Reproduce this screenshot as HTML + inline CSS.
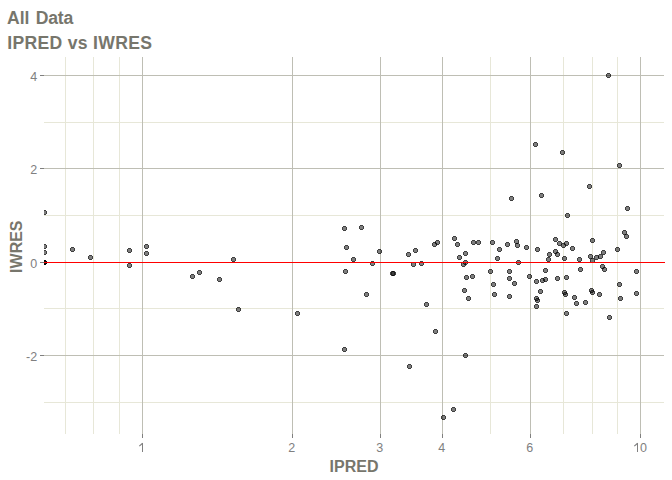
<!DOCTYPE html>
<html><head><meta charset="utf-8"><style>
html,body{margin:0;padding:0;background:#fff;width:672px;height:480px;overflow:hidden}
svg{display:block}
text{font-family:"Liberation Sans",sans-serif}
.tk{font-size:12.5px;fill:#808080}
.ti{font-size:17.6px;font-weight:bold;fill:#77766c}
.ax{font-size:16px;font-weight:bold;fill:#77766c}
</style></head><body>
<svg width="672" height="480" viewBox="0 0 672 480" shape-rendering="crispEdges">
<rect width="672" height="480" fill="#fff"/>
<rect x="65" y="57" width="1" height="377" fill="#e7e7d8"/>
<rect x="93" y="57" width="1" height="377" fill="#e7e7d8"/>
<rect x="119" y="57" width="1" height="377" fill="#e7e7d8"/>
<rect x="490" y="57" width="1" height="377" fill="#e7e7d8"/>
<rect x="563" y="57" width="1" height="377" fill="#e7e7d8"/>
<rect x="592" y="57" width="1" height="377" fill="#e7e7d8"/>
<rect x="617" y="57" width="1" height="377" fill="#e7e7d8"/>
<rect x="44" y="122" width="620" height="1" fill="#e7e7d8"/>
<rect x="44" y="215" width="620" height="1" fill="#e7e7d8"/>
<rect x="44" y="308" width="620" height="1" fill="#e7e7d8"/>
<rect x="44" y="402" width="620" height="1" fill="#e7e7d8"/>
<rect x="142" y="57" width="1" height="377" fill="#bebeb4"/>
<rect x="292" y="57" width="1" height="377" fill="#bebeb4"/>
<rect x="380" y="57" width="1" height="377" fill="#bebeb4"/>
<rect x="442" y="57" width="1" height="377" fill="#bebeb4"/>
<rect x="530" y="57" width="1" height="377" fill="#bebeb4"/>
<rect x="640" y="57" width="1" height="377" fill="#bebeb4"/>
<rect x="44" y="75" width="620" height="1" fill="#bebeb4"/>
<rect x="44" y="168" width="620" height="1" fill="#bebeb4"/>
<rect x="44" y="262" width="620" height="1" fill="#bebeb4"/>
<rect x="44" y="355" width="620" height="1" fill="#bebeb4"/>
<rect x="142" y="434" width="1" height="4" fill="#7f7f7f"/>
<rect x="292" y="434" width="1" height="4" fill="#7f7f7f"/>
<rect x="380" y="434" width="1" height="4" fill="#7f7f7f"/>
<rect x="442" y="434" width="1" height="4" fill="#7f7f7f"/>
<rect x="530" y="434" width="1" height="4" fill="#7f7f7f"/>
<rect x="640" y="434" width="1" height="4" fill="#7f7f7f"/>
<rect x="40" y="75" width="4" height="1" fill="#7f7f7f"/>
<rect x="40" y="168" width="4" height="1" fill="#7f7f7f"/>
<rect x="40" y="262" width="4" height="1" fill="#7f7f7f"/>
<rect x="40" y="355" width="4" height="1" fill="#7f7f7f"/>
<path d="M44 210h2v1h1v3h-1v1h-2z" fill="rgba(0,0,0,0.5)"/><path d="M44 210h2v1h1v3h-1v1h-2zM44 211h2v3h-2z" fill="rgba(0,0,0,0.5)" fill-rule="evenodd"/>
<path d="M44 244h2v1h1v3h-1v1h-2z" fill="rgba(0,0,0,0.5)"/><path d="M44 244h2v1h1v3h-1v1h-2zM44 245h2v3h-2z" fill="rgba(0,0,0,0.5)" fill-rule="evenodd"/>
<path d="M44 250h2v1h1v3h-1v1h-2z" fill="rgba(0,0,0,0.5)"/><path d="M44 250h2v1h1v3h-1v1h-2zM44 251h2v3h-2z" fill="rgba(0,0,0,0.5)" fill-rule="evenodd"/>
<path d="M44 260h2v1h1v3h-1v1h-2z" fill="rgba(0,0,0,0.5)"/><path d="M44 260h2v1h1v3h-1v1h-2zM44 261h2v3h-2z" fill="rgba(0,0,0,0.5)" fill-rule="evenodd"/>
<path d="M44 260h2v1h1v3h-1v1h-2z" fill="rgba(0,0,0,0.5)"/><path d="M44 260h2v1h1v3h-1v1h-2zM44 261h2v3h-2z" fill="rgba(0,0,0,0.5)" fill-rule="evenodd"/>
<path d="M44 260h2v1h1v3h-1v1h-2z" fill="rgba(0,0,0,0.5)"/><path d="M44 260h2v1h1v3h-1v1h-2zM44 261h2v3h-2z" fill="rgba(0,0,0,0.5)" fill-rule="evenodd"/>
<path d="M44 260h2v1h1v3h-1v1h-2z" fill="rgba(0,0,0,0.5)"/><path d="M44 260h2v1h1v3h-1v1h-2zM44 261h2v3h-2z" fill="rgba(0,0,0,0.5)" fill-rule="evenodd"/>
<path d="M71 247h3v1h1v3h-1v1h-3v-1h-1v-3h1z" fill="rgba(0,0,0,0.5)"/><path d="M71 247h3v1h1v3h-1v1h-3v-1h-1v-3h1zM71 248v3h3v-3z" fill="rgba(0,0,0,0.5)" fill-rule="evenodd"/>
<path d="M89 255h3v1h1v3h-1v1h-3v-1h-1v-3h1z" fill="rgba(0,0,0,0.5)"/><path d="M89 255h3v1h1v3h-1v1h-3v-1h-1v-3h1zM89 256v3h3v-3z" fill="rgba(0,0,0,0.5)" fill-rule="evenodd"/>
<path d="M128 248h3v1h1v3h-1v1h-3v-1h-1v-3h1z" fill="rgba(0,0,0,0.5)"/><path d="M128 248h3v1h1v3h-1v1h-3v-1h-1v-3h1zM128 249v3h3v-3z" fill="rgba(0,0,0,0.5)" fill-rule="evenodd"/>
<path d="M128 263h3v1h1v3h-1v1h-3v-1h-1v-3h1z" fill="rgba(0,0,0,0.5)"/><path d="M128 263h3v1h1v3h-1v1h-3v-1h-1v-3h1zM128 264v3h3v-3z" fill="rgba(0,0,0,0.5)" fill-rule="evenodd"/>
<path d="M145 244h3v1h1v3h-1v1h-3v-1h-1v-3h1z" fill="rgba(0,0,0,0.5)"/><path d="M145 244h3v1h1v3h-1v1h-3v-1h-1v-3h1zM145 245v3h3v-3z" fill="rgba(0,0,0,0.5)" fill-rule="evenodd"/>
<path d="M145 251h3v1h1v3h-1v1h-3v-1h-1v-3h1z" fill="rgba(0,0,0,0.5)"/><path d="M145 251h3v1h1v3h-1v1h-3v-1h-1v-3h1zM145 252v3h3v-3z" fill="rgba(0,0,0,0.5)" fill-rule="evenodd"/>
<path d="M191 274h3v1h1v3h-1v1h-3v-1h-1v-3h1z" fill="rgba(0,0,0,0.5)"/><path d="M191 274h3v1h1v3h-1v1h-3v-1h-1v-3h1zM191 275v3h3v-3z" fill="rgba(0,0,0,0.5)" fill-rule="evenodd"/>
<path d="M198 270h3v1h1v3h-1v1h-3v-1h-1v-3h1z" fill="rgba(0,0,0,0.5)"/><path d="M198 270h3v1h1v3h-1v1h-3v-1h-1v-3h1zM198 271v3h3v-3z" fill="rgba(0,0,0,0.5)" fill-rule="evenodd"/>
<path d="M218 277h3v1h1v3h-1v1h-3v-1h-1v-3h1z" fill="rgba(0,0,0,0.5)"/><path d="M218 277h3v1h1v3h-1v1h-3v-1h-1v-3h1zM218 278v3h3v-3z" fill="rgba(0,0,0,0.5)" fill-rule="evenodd"/>
<path d="M232 257h3v1h1v3h-1v1h-3v-1h-1v-3h1z" fill="rgba(0,0,0,0.5)"/><path d="M232 257h3v1h1v3h-1v1h-3v-1h-1v-3h1zM232 258v3h3v-3z" fill="rgba(0,0,0,0.5)" fill-rule="evenodd"/>
<path d="M237 307h3v1h1v3h-1v1h-3v-1h-1v-3h1z" fill="rgba(0,0,0,0.5)"/><path d="M237 307h3v1h1v3h-1v1h-3v-1h-1v-3h1zM237 308v3h3v-3z" fill="rgba(0,0,0,0.5)" fill-rule="evenodd"/>
<path d="M296 311h3v1h1v3h-1v1h-3v-1h-1v-3h1z" fill="rgba(0,0,0,0.5)"/><path d="M296 311h3v1h1v3h-1v1h-3v-1h-1v-3h1zM296 312v3h3v-3z" fill="rgba(0,0,0,0.5)" fill-rule="evenodd"/>
<path d="M343 226h3v1h1v3h-1v1h-3v-1h-1v-3h1z" fill="rgba(0,0,0,0.5)"/><path d="M343 226h3v1h1v3h-1v1h-3v-1h-1v-3h1zM343 227v3h3v-3z" fill="rgba(0,0,0,0.5)" fill-rule="evenodd"/>
<path d="M360 225h3v1h1v3h-1v1h-3v-1h-1v-3h1z" fill="rgba(0,0,0,0.5)"/><path d="M360 225h3v1h1v3h-1v1h-3v-1h-1v-3h1zM360 226v3h3v-3z" fill="rgba(0,0,0,0.5)" fill-rule="evenodd"/>
<path d="M345 245h3v1h1v3h-1v1h-3v-1h-1v-3h1z" fill="rgba(0,0,0,0.5)"/><path d="M345 245h3v1h1v3h-1v1h-3v-1h-1v-3h1zM345 246v3h3v-3z" fill="rgba(0,0,0,0.5)" fill-rule="evenodd"/>
<path d="M352 257h3v1h1v3h-1v1h-3v-1h-1v-3h1z" fill="rgba(0,0,0,0.5)"/><path d="M352 257h3v1h1v3h-1v1h-3v-1h-1v-3h1zM352 258v3h3v-3z" fill="rgba(0,0,0,0.5)" fill-rule="evenodd"/>
<path d="M344 269h3v1h1v3h-1v1h-3v-1h-1v-3h1z" fill="rgba(0,0,0,0.5)"/><path d="M344 269h3v1h1v3h-1v1h-3v-1h-1v-3h1zM344 270v3h3v-3z" fill="rgba(0,0,0,0.5)" fill-rule="evenodd"/>
<path d="M371 261h3v1h1v3h-1v1h-3v-1h-1v-3h1z" fill="rgba(0,0,0,0.5)"/><path d="M371 261h3v1h1v3h-1v1h-3v-1h-1v-3h1zM371 262v3h3v-3z" fill="rgba(0,0,0,0.5)" fill-rule="evenodd"/>
<path d="M378 249h3v1h1v3h-1v1h-3v-1h-1v-3h1z" fill="rgba(0,0,0,0.5)"/><path d="M378 249h3v1h1v3h-1v1h-3v-1h-1v-3h1zM378 250v3h3v-3z" fill="rgba(0,0,0,0.5)" fill-rule="evenodd"/>
<path d="M407 252h3v1h1v3h-1v1h-3v-1h-1v-3h1z" fill="rgba(0,0,0,0.5)"/><path d="M407 252h3v1h1v3h-1v1h-3v-1h-1v-3h1zM407 253v3h3v-3z" fill="rgba(0,0,0,0.5)" fill-rule="evenodd"/>
<path d="M414 248h3v1h1v3h-1v1h-3v-1h-1v-3h1z" fill="rgba(0,0,0,0.5)"/><path d="M414 248h3v1h1v3h-1v1h-3v-1h-1v-3h1zM414 249v3h3v-3z" fill="rgba(0,0,0,0.5)" fill-rule="evenodd"/>
<path d="M412 262h3v1h1v3h-1v1h-3v-1h-1v-3h1z" fill="rgba(0,0,0,0.5)"/><path d="M412 262h3v1h1v3h-1v1h-3v-1h-1v-3h1zM412 263v3h3v-3z" fill="rgba(0,0,0,0.5)" fill-rule="evenodd"/>
<path d="M391 271h3v1h1v3h-1v1h-3v-1h-1v-3h1z" fill="rgba(0,0,0,0.5)"/><path d="M391 271h3v1h1v3h-1v1h-3v-1h-1v-3h1zM391 272v3h3v-3z" fill="rgba(0,0,0,0.5)" fill-rule="evenodd"/>
<path d="M392 271h3v1h1v3h-1v1h-3v-1h-1v-3h1z" fill="rgba(0,0,0,0.5)"/><path d="M392 271h3v1h1v3h-1v1h-3v-1h-1v-3h1zM392 272v3h3v-3z" fill="rgba(0,0,0,0.5)" fill-rule="evenodd"/>
<path d="M365 292h3v1h1v3h-1v1h-3v-1h-1v-3h1z" fill="rgba(0,0,0,0.5)"/><path d="M365 292h3v1h1v3h-1v1h-3v-1h-1v-3h1zM365 293v3h3v-3z" fill="rgba(0,0,0,0.5)" fill-rule="evenodd"/>
<path d="M425 302h3v1h1v3h-1v1h-3v-1h-1v-3h1z" fill="rgba(0,0,0,0.5)"/><path d="M425 302h3v1h1v3h-1v1h-3v-1h-1v-3h1zM425 303v3h3v-3z" fill="rgba(0,0,0,0.5)" fill-rule="evenodd"/>
<path d="M434 329h3v1h1v3h-1v1h-3v-1h-1v-3h1z" fill="rgba(0,0,0,0.5)"/><path d="M434 329h3v1h1v3h-1v1h-3v-1h-1v-3h1zM434 330v3h3v-3z" fill="rgba(0,0,0,0.5)" fill-rule="evenodd"/>
<path d="M343 347h3v1h1v3h-1v1h-3v-1h-1v-3h1z" fill="rgba(0,0,0,0.5)"/><path d="M343 347h3v1h1v3h-1v1h-3v-1h-1v-3h1zM343 348v3h3v-3z" fill="rgba(0,0,0,0.5)" fill-rule="evenodd"/>
<path d="M408 364h3v1h1v3h-1v1h-3v-1h-1v-3h1z" fill="rgba(0,0,0,0.5)"/><path d="M408 364h3v1h1v3h-1v1h-3v-1h-1v-3h1zM408 365v3h3v-3z" fill="rgba(0,0,0,0.5)" fill-rule="evenodd"/>
<path d="M452 407h3v1h1v3h-1v1h-3v-1h-1v-3h1z" fill="rgba(0,0,0,0.5)"/><path d="M452 407h3v1h1v3h-1v1h-3v-1h-1v-3h1zM452 408v3h3v-3z" fill="rgba(0,0,0,0.5)" fill-rule="evenodd"/>
<path d="M442 415h3v1h1v3h-1v1h-3v-1h-1v-3h1z" fill="rgba(0,0,0,0.5)"/><path d="M442 415h3v1h1v3h-1v1h-3v-1h-1v-3h1zM442 416v3h3v-3z" fill="rgba(0,0,0,0.5)" fill-rule="evenodd"/>
<path d="M433 242h3v1h1v3h-1v1h-3v-1h-1v-3h1z" fill="rgba(0,0,0,0.5)"/><path d="M433 242h3v1h1v3h-1v1h-3v-1h-1v-3h1zM433 243v3h3v-3z" fill="rgba(0,0,0,0.5)" fill-rule="evenodd"/>
<path d="M436 240h3v1h1v3h-1v1h-3v-1h-1v-3h1z" fill="rgba(0,0,0,0.5)"/><path d="M436 240h3v1h1v3h-1v1h-3v-1h-1v-3h1zM436 241v3h3v-3z" fill="rgba(0,0,0,0.5)" fill-rule="evenodd"/>
<path d="M453 236h3v1h1v3h-1v1h-3v-1h-1v-3h1z" fill="rgba(0,0,0,0.5)"/><path d="M453 236h3v1h1v3h-1v1h-3v-1h-1v-3h1zM453 237v3h3v-3z" fill="rgba(0,0,0,0.5)" fill-rule="evenodd"/>
<path d="M456 242h3v1h1v3h-1v1h-3v-1h-1v-3h1z" fill="rgba(0,0,0,0.5)"/><path d="M456 242h3v1h1v3h-1v1h-3v-1h-1v-3h1zM456 243v3h3v-3z" fill="rgba(0,0,0,0.5)" fill-rule="evenodd"/>
<path d="M472 240h3v1h1v3h-1v1h-3v-1h-1v-3h1z" fill="rgba(0,0,0,0.5)"/><path d="M472 240h3v1h1v3h-1v1h-3v-1h-1v-3h1zM472 241v3h3v-3z" fill="rgba(0,0,0,0.5)" fill-rule="evenodd"/>
<path d="M477 240h3v1h1v3h-1v1h-3v-1h-1v-3h1z" fill="rgba(0,0,0,0.5)"/><path d="M477 240h3v1h1v3h-1v1h-3v-1h-1v-3h1zM477 241v3h3v-3z" fill="rgba(0,0,0,0.5)" fill-rule="evenodd"/>
<path d="M491 240h3v1h1v3h-1v1h-3v-1h-1v-3h1z" fill="rgba(0,0,0,0.5)"/><path d="M491 240h3v1h1v3h-1v1h-3v-1h-1v-3h1zM491 241v3h3v-3z" fill="rgba(0,0,0,0.5)" fill-rule="evenodd"/>
<path d="M498 247h3v1h1v3h-1v1h-3v-1h-1v-3h1z" fill="rgba(0,0,0,0.5)"/><path d="M498 247h3v1h1v3h-1v1h-3v-1h-1v-3h1zM498 248v3h3v-3z" fill="rgba(0,0,0,0.5)" fill-rule="evenodd"/>
<path d="M464 251h3v1h1v3h-1v1h-3v-1h-1v-3h1z" fill="rgba(0,0,0,0.5)"/><path d="M464 251h3v1h1v3h-1v1h-3v-1h-1v-3h1zM464 252v3h3v-3z" fill="rgba(0,0,0,0.5)" fill-rule="evenodd"/>
<path d="M458 255h3v1h1v3h-1v1h-3v-1h-1v-3h1z" fill="rgba(0,0,0,0.5)"/><path d="M458 255h3v1h1v3h-1v1h-3v-1h-1v-3h1zM458 256v3h3v-3z" fill="rgba(0,0,0,0.5)" fill-rule="evenodd"/>
<path d="M464 260h3v1h1v3h-1v1h-3v-1h-1v-3h1z" fill="rgba(0,0,0,0.5)"/><path d="M464 260h3v1h1v3h-1v1h-3v-1h-1v-3h1zM464 261v3h3v-3z" fill="rgba(0,0,0,0.5)" fill-rule="evenodd"/>
<path d="M462 262h3v1h1v3h-1v1h-3v-1h-1v-3h1z" fill="rgba(0,0,0,0.5)"/><path d="M462 262h3v1h1v3h-1v1h-3v-1h-1v-3h1zM462 263v3h3v-3z" fill="rgba(0,0,0,0.5)" fill-rule="evenodd"/>
<path d="M496 256h3v1h1v3h-1v1h-3v-1h-1v-3h1z" fill="rgba(0,0,0,0.5)"/><path d="M496 256h3v1h1v3h-1v1h-3v-1h-1v-3h1zM496 257v3h3v-3z" fill="rgba(0,0,0,0.5)" fill-rule="evenodd"/>
<path d="M420 261h3v1h1v3h-1v1h-3v-1h-1v-3h1z" fill="rgba(0,0,0,0.5)"/><path d="M420 261h3v1h1v3h-1v1h-3v-1h-1v-3h1zM420 262v3h3v-3z" fill="rgba(0,0,0,0.5)" fill-rule="evenodd"/>
<path d="M489 269h3v1h1v3h-1v1h-3v-1h-1v-3h1z" fill="rgba(0,0,0,0.5)"/><path d="M489 269h3v1h1v3h-1v1h-3v-1h-1v-3h1zM489 270v3h3v-3z" fill="rgba(0,0,0,0.5)" fill-rule="evenodd"/>
<path d="M471 274h3v1h1v3h-1v1h-3v-1h-1v-3h1z" fill="rgba(0,0,0,0.5)"/><path d="M471 274h3v1h1v3h-1v1h-3v-1h-1v-3h1zM471 275v3h3v-3z" fill="rgba(0,0,0,0.5)" fill-rule="evenodd"/>
<path d="M465 275h3v1h1v3h-1v1h-3v-1h-1v-3h1z" fill="rgba(0,0,0,0.5)"/><path d="M465 275h3v1h1v3h-1v1h-3v-1h-1v-3h1zM465 276v3h3v-3z" fill="rgba(0,0,0,0.5)" fill-rule="evenodd"/>
<path d="M492 282h3v1h1v3h-1v1h-3v-1h-1v-3h1z" fill="rgba(0,0,0,0.5)"/><path d="M492 282h3v1h1v3h-1v1h-3v-1h-1v-3h1zM492 283v3h3v-3z" fill="rgba(0,0,0,0.5)" fill-rule="evenodd"/>
<path d="M463 288h3v1h1v3h-1v1h-3v-1h-1v-3h1z" fill="rgba(0,0,0,0.5)"/><path d="M463 288h3v1h1v3h-1v1h-3v-1h-1v-3h1zM463 289v3h3v-3z" fill="rgba(0,0,0,0.5)" fill-rule="evenodd"/>
<path d="M467 296h3v1h1v3h-1v1h-3v-1h-1v-3h1z" fill="rgba(0,0,0,0.5)"/><path d="M467 296h3v1h1v3h-1v1h-3v-1h-1v-3h1zM467 297v3h3v-3z" fill="rgba(0,0,0,0.5)" fill-rule="evenodd"/>
<path d="M493 292h3v1h1v3h-1v1h-3v-1h-1v-3h1z" fill="rgba(0,0,0,0.5)"/><path d="M493 292h3v1h1v3h-1v1h-3v-1h-1v-3h1zM493 293v3h3v-3z" fill="rgba(0,0,0,0.5)" fill-rule="evenodd"/>
<path d="M464 353h3v1h1v3h-1v1h-3v-1h-1v-3h1z" fill="rgba(0,0,0,0.5)"/><path d="M464 353h3v1h1v3h-1v1h-3v-1h-1v-3h1zM464 354v3h3v-3z" fill="rgba(0,0,0,0.5)" fill-rule="evenodd"/>
<path d="M534 142h3v1h1v3h-1v1h-3v-1h-1v-3h1z" fill="rgba(0,0,0,0.5)"/><path d="M534 142h3v1h1v3h-1v1h-3v-1h-1v-3h1zM534 143v3h3v-3z" fill="rgba(0,0,0,0.5)" fill-rule="evenodd"/>
<path d="M561 150h3v1h1v3h-1v1h-3v-1h-1v-3h1z" fill="rgba(0,0,0,0.5)"/><path d="M561 150h3v1h1v3h-1v1h-3v-1h-1v-3h1zM561 151v3h3v-3z" fill="rgba(0,0,0,0.5)" fill-rule="evenodd"/>
<path d="M510 196h3v1h1v3h-1v1h-3v-1h-1v-3h1z" fill="rgba(0,0,0,0.5)"/><path d="M510 196h3v1h1v3h-1v1h-3v-1h-1v-3h1zM510 197v3h3v-3z" fill="rgba(0,0,0,0.5)" fill-rule="evenodd"/>
<path d="M540 193h3v1h1v3h-1v1h-3v-1h-1v-3h1z" fill="rgba(0,0,0,0.5)"/><path d="M540 193h3v1h1v3h-1v1h-3v-1h-1v-3h1zM540 194v3h3v-3z" fill="rgba(0,0,0,0.5)" fill-rule="evenodd"/>
<path d="M566 213h3v1h1v3h-1v1h-3v-1h-1v-3h1z" fill="rgba(0,0,0,0.5)"/><path d="M566 213h3v1h1v3h-1v1h-3v-1h-1v-3h1zM566 214v3h3v-3z" fill="rgba(0,0,0,0.5)" fill-rule="evenodd"/>
<path d="M506 242h3v1h1v3h-1v1h-3v-1h-1v-3h1z" fill="rgba(0,0,0,0.5)"/><path d="M506 242h3v1h1v3h-1v1h-3v-1h-1v-3h1zM506 243v3h3v-3z" fill="rgba(0,0,0,0.5)" fill-rule="evenodd"/>
<path d="M515 239h3v1h1v3h-1v1h-3v-1h-1v-3h1z" fill="rgba(0,0,0,0.5)"/><path d="M515 239h3v1h1v3h-1v1h-3v-1h-1v-3h1zM515 240v3h3v-3z" fill="rgba(0,0,0,0.5)" fill-rule="evenodd"/>
<path d="M516 243h3v1h1v3h-1v1h-3v-1h-1v-3h1z" fill="rgba(0,0,0,0.5)"/><path d="M516 243h3v1h1v3h-1v1h-3v-1h-1v-3h1zM516 244v3h3v-3z" fill="rgba(0,0,0,0.5)" fill-rule="evenodd"/>
<path d="M525 245h3v1h1v3h-1v1h-3v-1h-1v-3h1z" fill="rgba(0,0,0,0.5)"/><path d="M525 245h3v1h1v3h-1v1h-3v-1h-1v-3h1zM525 246v3h3v-3z" fill="rgba(0,0,0,0.5)" fill-rule="evenodd"/>
<path d="M536 247h3v1h1v3h-1v1h-3v-1h-1v-3h1z" fill="rgba(0,0,0,0.5)"/><path d="M536 247h3v1h1v3h-1v1h-3v-1h-1v-3h1zM536 248v3h3v-3z" fill="rgba(0,0,0,0.5)" fill-rule="evenodd"/>
<path d="M554 237h3v1h1v3h-1v1h-3v-1h-1v-3h1z" fill="rgba(0,0,0,0.5)"/><path d="M554 237h3v1h1v3h-1v1h-3v-1h-1v-3h1zM554 238v3h3v-3z" fill="rgba(0,0,0,0.5)" fill-rule="evenodd"/>
<path d="M558 241h3v1h1v3h-1v1h-3v-1h-1v-3h1z" fill="rgba(0,0,0,0.5)"/><path d="M558 241h3v1h1v3h-1v1h-3v-1h-1v-3h1zM558 242v3h3v-3z" fill="rgba(0,0,0,0.5)" fill-rule="evenodd"/>
<path d="M562 243h3v1h1v3h-1v1h-3v-1h-1v-3h1z" fill="rgba(0,0,0,0.5)"/><path d="M562 243h3v1h1v3h-1v1h-3v-1h-1v-3h1zM562 244v3h3v-3z" fill="rgba(0,0,0,0.5)" fill-rule="evenodd"/>
<path d="M565 241h3v1h1v3h-1v1h-3v-1h-1v-3h1z" fill="rgba(0,0,0,0.5)"/><path d="M565 241h3v1h1v3h-1v1h-3v-1h-1v-3h1zM565 242v3h3v-3z" fill="rgba(0,0,0,0.5)" fill-rule="evenodd"/>
<path d="M571 246h3v1h1v3h-1v1h-3v-1h-1v-3h1z" fill="rgba(0,0,0,0.5)"/><path d="M571 246h3v1h1v3h-1v1h-3v-1h-1v-3h1zM571 247v3h3v-3z" fill="rgba(0,0,0,0.5)" fill-rule="evenodd"/>
<path d="M554 249h3v1h1v3h-1v1h-3v-1h-1v-3h1z" fill="rgba(0,0,0,0.5)"/><path d="M554 249h3v1h1v3h-1v1h-3v-1h-1v-3h1zM554 250v3h3v-3z" fill="rgba(0,0,0,0.5)" fill-rule="evenodd"/>
<path d="M556 252h3v1h1v3h-1v1h-3v-1h-1v-3h1z" fill="rgba(0,0,0,0.5)"/><path d="M556 252h3v1h1v3h-1v1h-3v-1h-1v-3h1zM556 253v3h3v-3z" fill="rgba(0,0,0,0.5)" fill-rule="evenodd"/>
<path d="M548 252h3v1h1v3h-1v1h-3v-1h-1v-3h1z" fill="rgba(0,0,0,0.5)"/><path d="M548 252h3v1h1v3h-1v1h-3v-1h-1v-3h1zM548 253v3h3v-3z" fill="rgba(0,0,0,0.5)" fill-rule="evenodd"/>
<path d="M547 257h3v1h1v3h-1v1h-3v-1h-1v-3h1z" fill="rgba(0,0,0,0.5)"/><path d="M547 257h3v1h1v3h-1v1h-3v-1h-1v-3h1zM547 258v3h3v-3z" fill="rgba(0,0,0,0.5)" fill-rule="evenodd"/>
<path d="M563 256h3v1h1v3h-1v1h-3v-1h-1v-3h1z" fill="rgba(0,0,0,0.5)"/><path d="M563 256h3v1h1v3h-1v1h-3v-1h-1v-3h1zM563 257v3h3v-3z" fill="rgba(0,0,0,0.5)" fill-rule="evenodd"/>
<path d="M578 257h3v1h1v3h-1v1h-3v-1h-1v-3h1z" fill="rgba(0,0,0,0.5)"/><path d="M578 257h3v1h1v3h-1v1h-3v-1h-1v-3h1zM578 258v3h3v-3z" fill="rgba(0,0,0,0.5)" fill-rule="evenodd"/>
<path d="M517 260h3v1h1v3h-1v1h-3v-1h-1v-3h1z" fill="rgba(0,0,0,0.5)"/><path d="M517 260h3v1h1v3h-1v1h-3v-1h-1v-3h1zM517 261v3h3v-3z" fill="rgba(0,0,0,0.5)" fill-rule="evenodd"/>
<path d="M508 269h3v1h1v3h-1v1h-3v-1h-1v-3h1z" fill="rgba(0,0,0,0.5)"/><path d="M508 269h3v1h1v3h-1v1h-3v-1h-1v-3h1zM508 270v3h3v-3z" fill="rgba(0,0,0,0.5)" fill-rule="evenodd"/>
<path d="M544 268h3v1h1v3h-1v1h-3v-1h-1v-3h1z" fill="rgba(0,0,0,0.5)"/><path d="M544 268h3v1h1v3h-1v1h-3v-1h-1v-3h1zM544 269v3h3v-3z" fill="rgba(0,0,0,0.5)" fill-rule="evenodd"/>
<path d="M579 267h3v1h1v3h-1v1h-3v-1h-1v-3h1z" fill="rgba(0,0,0,0.5)"/><path d="M579 267h3v1h1v3h-1v1h-3v-1h-1v-3h1zM579 268v3h3v-3z" fill="rgba(0,0,0,0.5)" fill-rule="evenodd"/>
<path d="M508 276h3v1h1v3h-1v1h-3v-1h-1v-3h1z" fill="rgba(0,0,0,0.5)"/><path d="M508 276h3v1h1v3h-1v1h-3v-1h-1v-3h1zM508 277v3h3v-3z" fill="rgba(0,0,0,0.5)" fill-rule="evenodd"/>
<path d="M528 274h3v1h1v3h-1v1h-3v-1h-1v-3h1z" fill="rgba(0,0,0,0.5)"/><path d="M528 274h3v1h1v3h-1v1h-3v-1h-1v-3h1zM528 275v3h3v-3z" fill="rgba(0,0,0,0.5)" fill-rule="evenodd"/>
<path d="M513 281h3v1h1v3h-1v1h-3v-1h-1v-3h1z" fill="rgba(0,0,0,0.5)"/><path d="M513 281h3v1h1v3h-1v1h-3v-1h-1v-3h1zM513 282v3h3v-3z" fill="rgba(0,0,0,0.5)" fill-rule="evenodd"/>
<path d="M535 279h3v1h1v3h-1v1h-3v-1h-1v-3h1z" fill="rgba(0,0,0,0.5)"/><path d="M535 279h3v1h1v3h-1v1h-3v-1h-1v-3h1zM535 280v3h3v-3z" fill="rgba(0,0,0,0.5)" fill-rule="evenodd"/>
<path d="M541 278h3v1h1v3h-1v1h-3v-1h-1v-3h1z" fill="rgba(0,0,0,0.5)"/><path d="M541 278h3v1h1v3h-1v1h-3v-1h-1v-3h1zM541 279v3h3v-3z" fill="rgba(0,0,0,0.5)" fill-rule="evenodd"/>
<path d="M544 277h3v1h1v3h-1v1h-3v-1h-1v-3h1z" fill="rgba(0,0,0,0.5)"/><path d="M544 277h3v1h1v3h-1v1h-3v-1h-1v-3h1zM544 278v3h3v-3z" fill="rgba(0,0,0,0.5)" fill-rule="evenodd"/>
<path d="M556 276h3v1h1v3h-1v1h-3v-1h-1v-3h1z" fill="rgba(0,0,0,0.5)"/><path d="M556 276h3v1h1v3h-1v1h-3v-1h-1v-3h1zM556 277v3h3v-3z" fill="rgba(0,0,0,0.5)" fill-rule="evenodd"/>
<path d="M565 275h3v1h1v3h-1v1h-3v-1h-1v-3h1z" fill="rgba(0,0,0,0.5)"/><path d="M565 275h3v1h1v3h-1v1h-3v-1h-1v-3h1zM565 276v3h3v-3z" fill="rgba(0,0,0,0.5)" fill-rule="evenodd"/>
<path d="M539 289h3v1h1v3h-1v1h-3v-1h-1v-3h1z" fill="rgba(0,0,0,0.5)"/><path d="M539 289h3v1h1v3h-1v1h-3v-1h-1v-3h1zM539 290v3h3v-3z" fill="rgba(0,0,0,0.5)" fill-rule="evenodd"/>
<path d="M508 294h3v1h1v3h-1v1h-3v-1h-1v-3h1z" fill="rgba(0,0,0,0.5)"/><path d="M508 294h3v1h1v3h-1v1h-3v-1h-1v-3h1zM508 295v3h3v-3z" fill="rgba(0,0,0,0.5)" fill-rule="evenodd"/>
<path d="M535 296h3v1h1v3h-1v1h-3v-1h-1v-3h1z" fill="rgba(0,0,0,0.5)"/><path d="M535 296h3v1h1v3h-1v1h-3v-1h-1v-3h1zM535 297v3h3v-3z" fill="rgba(0,0,0,0.5)" fill-rule="evenodd"/>
<path d="M536 298h3v1h1v3h-1v1h-3v-1h-1v-3h1z" fill="rgba(0,0,0,0.5)"/><path d="M536 298h3v1h1v3h-1v1h-3v-1h-1v-3h1zM536 299v3h3v-3z" fill="rgba(0,0,0,0.5)" fill-rule="evenodd"/>
<path d="M535 304h3v1h1v3h-1v1h-3v-1h-1v-3h1z" fill="rgba(0,0,0,0.5)"/><path d="M535 304h3v1h1v3h-1v1h-3v-1h-1v-3h1zM535 305v3h3v-3z" fill="rgba(0,0,0,0.5)" fill-rule="evenodd"/>
<path d="M563 290h3v1h1v3h-1v1h-3v-1h-1v-3h1z" fill="rgba(0,0,0,0.5)"/><path d="M563 290h3v1h1v3h-1v1h-3v-1h-1v-3h1zM563 291v3h3v-3z" fill="rgba(0,0,0,0.5)" fill-rule="evenodd"/>
<path d="M564 292h3v1h1v3h-1v1h-3v-1h-1v-3h1z" fill="rgba(0,0,0,0.5)"/><path d="M564 292h3v1h1v3h-1v1h-3v-1h-1v-3h1zM564 293v3h3v-3z" fill="rgba(0,0,0,0.5)" fill-rule="evenodd"/>
<path d="M573 295h3v1h1v3h-1v1h-3v-1h-1v-3h1z" fill="rgba(0,0,0,0.5)"/><path d="M573 295h3v1h1v3h-1v1h-3v-1h-1v-3h1zM573 296v3h3v-3z" fill="rgba(0,0,0,0.5)" fill-rule="evenodd"/>
<path d="M575 301h3v1h1v3h-1v1h-3v-1h-1v-3h1z" fill="rgba(0,0,0,0.5)"/><path d="M575 301h3v1h1v3h-1v1h-3v-1h-1v-3h1zM575 302v3h3v-3z" fill="rgba(0,0,0,0.5)" fill-rule="evenodd"/>
<path d="M584 300h3v1h1v3h-1v1h-3v-1h-1v-3h1z" fill="rgba(0,0,0,0.5)"/><path d="M584 300h3v1h1v3h-1v1h-3v-1h-1v-3h1zM584 301v3h3v-3z" fill="rgba(0,0,0,0.5)" fill-rule="evenodd"/>
<path d="M565 311h3v1h1v3h-1v1h-3v-1h-1v-3h1z" fill="rgba(0,0,0,0.5)"/><path d="M565 311h3v1h1v3h-1v1h-3v-1h-1v-3h1zM565 312v3h3v-3z" fill="rgba(0,0,0,0.5)" fill-rule="evenodd"/>
<path d="M607 73h3v1h1v3h-1v1h-3v-1h-1v-3h1z" fill="rgba(0,0,0,0.5)"/><path d="M607 73h3v1h1v3h-1v1h-3v-1h-1v-3h1zM607 74v3h3v-3z" fill="rgba(0,0,0,0.5)" fill-rule="evenodd"/>
<path d="M618 163h3v1h1v3h-1v1h-3v-1h-1v-3h1z" fill="rgba(0,0,0,0.5)"/><path d="M618 163h3v1h1v3h-1v1h-3v-1h-1v-3h1zM618 164v3h3v-3z" fill="rgba(0,0,0,0.5)" fill-rule="evenodd"/>
<path d="M588 184h3v1h1v3h-1v1h-3v-1h-1v-3h1z" fill="rgba(0,0,0,0.5)"/><path d="M588 184h3v1h1v3h-1v1h-3v-1h-1v-3h1zM588 185v3h3v-3z" fill="rgba(0,0,0,0.5)" fill-rule="evenodd"/>
<path d="M626 206h3v1h1v3h-1v1h-3v-1h-1v-3h1z" fill="rgba(0,0,0,0.5)"/><path d="M626 206h3v1h1v3h-1v1h-3v-1h-1v-3h1zM626 207v3h3v-3z" fill="rgba(0,0,0,0.5)" fill-rule="evenodd"/>
<path d="M623 230h3v1h1v3h-1v1h-3v-1h-1v-3h1z" fill="rgba(0,0,0,0.5)"/><path d="M623 230h3v1h1v3h-1v1h-3v-1h-1v-3h1zM623 231v3h3v-3z" fill="rgba(0,0,0,0.5)" fill-rule="evenodd"/>
<path d="M625 234h3v1h1v3h-1v1h-3v-1h-1v-3h1z" fill="rgba(0,0,0,0.5)"/><path d="M625 234h3v1h1v3h-1v1h-3v-1h-1v-3h1zM625 235v3h3v-3z" fill="rgba(0,0,0,0.5)" fill-rule="evenodd"/>
<path d="M591 238h3v1h1v3h-1v1h-3v-1h-1v-3h1z" fill="rgba(0,0,0,0.5)"/><path d="M591 238h3v1h1v3h-1v1h-3v-1h-1v-3h1zM591 239v3h3v-3z" fill="rgba(0,0,0,0.5)" fill-rule="evenodd"/>
<path d="M616 247h3v1h1v3h-1v1h-3v-1h-1v-3h1z" fill="rgba(0,0,0,0.5)"/><path d="M616 247h3v1h1v3h-1v1h-3v-1h-1v-3h1zM616 248v3h3v-3z" fill="rgba(0,0,0,0.5)" fill-rule="evenodd"/>
<path d="M602 250h3v1h1v3h-1v1h-3v-1h-1v-3h1z" fill="rgba(0,0,0,0.5)"/><path d="M602 250h3v1h1v3h-1v1h-3v-1h-1v-3h1zM602 251v3h3v-3z" fill="rgba(0,0,0,0.5)" fill-rule="evenodd"/>
<path d="M589 254h3v1h1v3h-1v1h-3v-1h-1v-3h1z" fill="rgba(0,0,0,0.5)"/><path d="M589 254h3v1h1v3h-1v1h-3v-1h-1v-3h1zM589 255v3h3v-3z" fill="rgba(0,0,0,0.5)" fill-rule="evenodd"/>
<path d="M595 255h3v1h1v3h-1v1h-3v-1h-1v-3h1z" fill="rgba(0,0,0,0.5)"/><path d="M595 255h3v1h1v3h-1v1h-3v-1h-1v-3h1zM595 256v3h3v-3z" fill="rgba(0,0,0,0.5)" fill-rule="evenodd"/>
<path d="M599 254h3v1h1v3h-1v1h-3v-1h-1v-3h1z" fill="rgba(0,0,0,0.5)"/><path d="M599 254h3v1h1v3h-1v1h-3v-1h-1v-3h1zM599 255v3h3v-3z" fill="rgba(0,0,0,0.5)" fill-rule="evenodd"/>
<path d="M591 258h3v1h1v3h-1v1h-3v-1h-1v-3h1z" fill="rgba(0,0,0,0.5)"/><path d="M591 258h3v1h1v3h-1v1h-3v-1h-1v-3h1zM591 259v3h3v-3z" fill="rgba(0,0,0,0.5)" fill-rule="evenodd"/>
<path d="M601 264h3v1h1v3h-1v1h-3v-1h-1v-3h1z" fill="rgba(0,0,0,0.5)"/><path d="M601 264h3v1h1v3h-1v1h-3v-1h-1v-3h1zM601 265v3h3v-3z" fill="rgba(0,0,0,0.5)" fill-rule="evenodd"/>
<path d="M603 267h3v1h1v3h-1v1h-3v-1h-1v-3h1z" fill="rgba(0,0,0,0.5)"/><path d="M603 267h3v1h1v3h-1v1h-3v-1h-1v-3h1zM603 268v3h3v-3z" fill="rgba(0,0,0,0.5)" fill-rule="evenodd"/>
<path d="M635 269h3v1h1v3h-1v1h-3v-1h-1v-3h1z" fill="rgba(0,0,0,0.5)"/><path d="M635 269h3v1h1v3h-1v1h-3v-1h-1v-3h1zM635 270v3h3v-3z" fill="rgba(0,0,0,0.5)" fill-rule="evenodd"/>
<path d="M618 282h3v1h1v3h-1v1h-3v-1h-1v-3h1z" fill="rgba(0,0,0,0.5)"/><path d="M618 282h3v1h1v3h-1v1h-3v-1h-1v-3h1zM618 283v3h3v-3z" fill="rgba(0,0,0,0.5)" fill-rule="evenodd"/>
<path d="M590 288h3v1h1v3h-1v1h-3v-1h-1v-3h1z" fill="rgba(0,0,0,0.5)"/><path d="M590 288h3v1h1v3h-1v1h-3v-1h-1v-3h1zM590 289v3h3v-3z" fill="rgba(0,0,0,0.5)" fill-rule="evenodd"/>
<path d="M591 290h3v1h1v3h-1v1h-3v-1h-1v-3h1z" fill="rgba(0,0,0,0.5)"/><path d="M591 290h3v1h1v3h-1v1h-3v-1h-1v-3h1zM591 291v3h3v-3z" fill="rgba(0,0,0,0.5)" fill-rule="evenodd"/>
<path d="M598 292h3v1h1v3h-1v1h-3v-1h-1v-3h1z" fill="rgba(0,0,0,0.5)"/><path d="M598 292h3v1h1v3h-1v1h-3v-1h-1v-3h1zM598 293v3h3v-3z" fill="rgba(0,0,0,0.5)" fill-rule="evenodd"/>
<path d="M635 291h3v1h1v3h-1v1h-3v-1h-1v-3h1z" fill="rgba(0,0,0,0.5)"/><path d="M635 291h3v1h1v3h-1v1h-3v-1h-1v-3h1zM635 292v3h3v-3z" fill="rgba(0,0,0,0.5)" fill-rule="evenodd"/>
<path d="M619 296h3v1h1v3h-1v1h-3v-1h-1v-3h1z" fill="rgba(0,0,0,0.5)"/><path d="M619 296h3v1h1v3h-1v1h-3v-1h-1v-3h1zM619 297v3h3v-3z" fill="rgba(0,0,0,0.5)" fill-rule="evenodd"/>
<path d="M608 315h3v1h1v3h-1v1h-3v-1h-1v-3h1z" fill="rgba(0,0,0,0.5)"/><path d="M608 315h3v1h1v3h-1v1h-3v-1h-1v-3h1zM608 316v3h3v-3z" fill="rgba(0,0,0,0.5)" fill-rule="evenodd"/>
<rect x="44" y="262" width="621" height="1" fill="#ff0000"/>
<text x="291.70" y="452" text-anchor="middle" class="tk">2</text>
<text x="379.70" y="452" text-anchor="middle" class="tk">3</text>
<text x="441.70" y="452" text-anchor="middle" class="tk">4</text>
<text x="529.70" y="452" text-anchor="middle" class="tk">6</text>
<rect x="142" y="443" width="1" height="9" fill="#808080"/><path d="M139.3 446.1L142.6 443.3" stroke="#808080" stroke-width="1.15" fill="none" shape-rendering="geometricPrecision"/>
<rect x="637" y="443" width="1" height="9" fill="#808080"/><path d="M634.3 446.1L637.6 443.3" stroke="#808080" stroke-width="1.15" fill="none" shape-rendering="geometricPrecision"/>
<text x="643.5" y="452" text-anchor="middle" class="tk">0</text>
<text x="37.2" y="80.60" text-anchor="end" class="tk">4</text>
<text x="37.2" y="173.60" text-anchor="end" class="tk">2</text>
<text x="37.2" y="267.60" text-anchor="end" class="tk">0</text>
<text x="37.2" y="360.60" text-anchor="end" class="tk">-2</text>
<text x="7" y="23.75" class="ti">All <tspan dx="1.3" letter-spacing="-0.15">Data</tspan></text>
<text x="7.3" y="48.5" class="ti" letter-spacing="0.3">IPRED vs IWRES</text>
<text x="354" y="471.75" text-anchor="middle" class="ax">IPRED</text>
<text transform="translate(22,246.7) rotate(-90)" text-anchor="middle" class="ax">IWRES</text>
</svg>
</body></html>
